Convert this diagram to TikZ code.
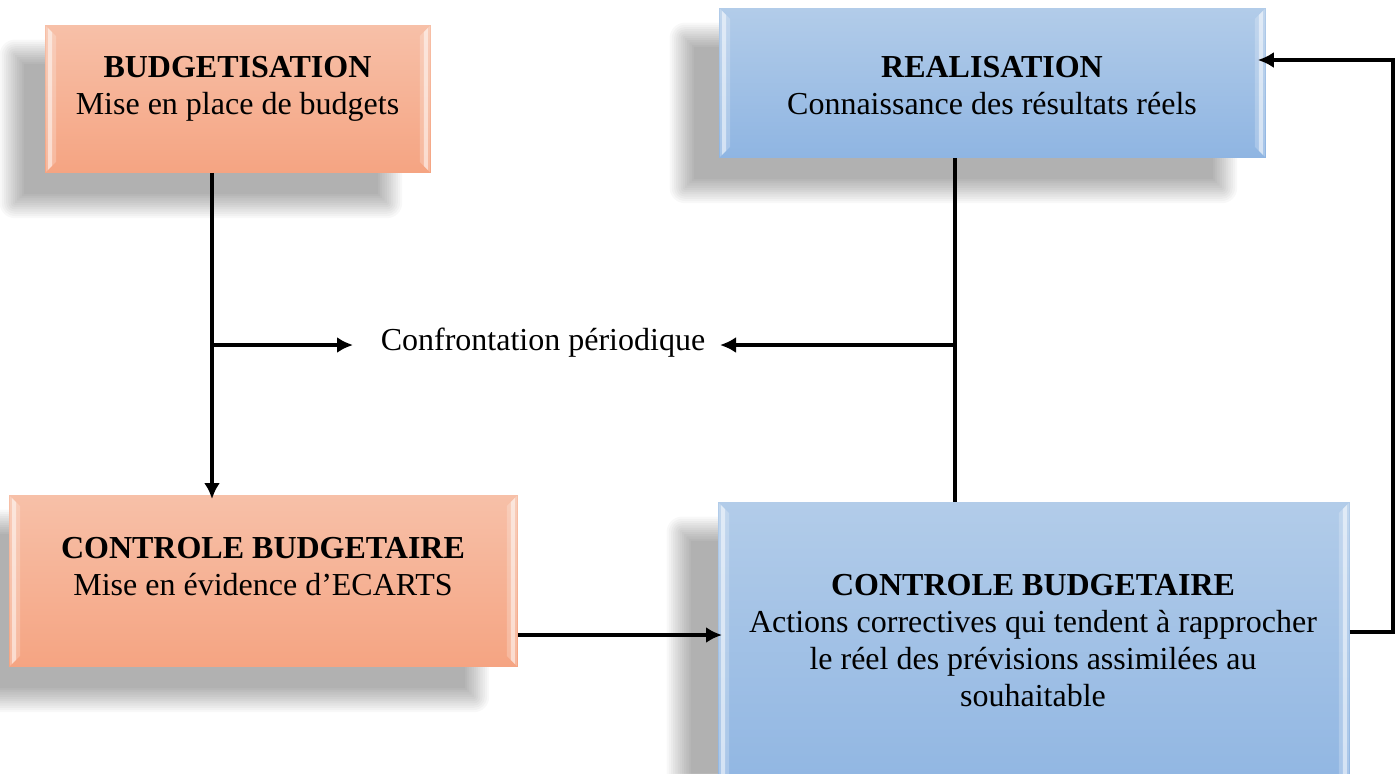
\documentclass[tikz,border=0pt]{standalone}
\usepackage{fontspec}
\setmainfont{Liberation Serif}
\usetikzlibrary{arrows.meta}

\definecolor{peachtop}{RGB}{247,192,168}
\definecolor{peachbot}{RGB}{245,164,130}
\definecolor{bluetop}{RGB}{178,204,233}
\definecolor{bluebot}{RGB}{143,181,226}

\tikzset{
  boxbase/.style={draw=none, inner sep=0pt, anchor=north west},
  peachbox/.style={boxbase, top color=peachtop, bottom color=peachbot},
  bluebox/.style={boxbase, top color=bluetop, bottom color=bluebot},
  boxtext/.style={align=center, anchor=north, inner sep=0pt, font=\fontsize{16}{18.5}\selectfont},
  link/.style={line width=2pt, -{Latex[length=8pt,width=8pt]}},
  plainlink/.style={line width=2pt},
  shadowlayer/.style={fill=black, opacity=0.028, rounded corners=#1},
}

% soft drop shadow: stacked translucent rectangles, offset left and down
\newcommand\softshadow[3]{% node, left shift, right shift
  \foreach \e in {-4.4,-3.3,...,7.7}{
    \pgfmathsetmacro\rr{max(\e,0.1)}
    \fill[shadowlayer=\rr pt]
      ([xshift=#2-\e pt, yshift=-15pt+\e pt]#1.north west) rectangle
      ([xshift=#3+\e pt, yshift=-15pt-\e pt]#1.south east);
  }%
}

% bevel highlight along the left and right edges
\newcommand\boxbevel[1]{%
  \fill[white, opacity=0.22] ([xshift=0.5pt,yshift=-0.5pt]#1.north west) -- ([xshift=5.5pt,yshift=-5.5pt]#1.north west)
     -- ([xshift=5.5pt,yshift=5.5pt]#1.south west) -- ([xshift=0.5pt,yshift=0.5pt]#1.south west) -- cycle;
  \fill[white, opacity=0.5] ([xshift=1.5pt,yshift=-1.5pt]#1.north west) -- ([xshift=3.5pt,yshift=-3.5pt]#1.north west)
     -- ([xshift=3.5pt,yshift=3.5pt]#1.south west) -- ([xshift=1.5pt,yshift=1.5pt]#1.south west) -- cycle;
  \fill[white, opacity=0.22] ([xshift=-0.5pt,yshift=-0.5pt]#1.north east) -- ([xshift=-5.5pt,yshift=-5.5pt]#1.north east)
     -- ([xshift=-5.5pt,yshift=5.5pt]#1.south east) -- ([xshift=-0.5pt,yshift=0.5pt]#1.south east) -- cycle;
  \fill[white, opacity=0.5] ([xshift=-1.5pt,yshift=-1.5pt]#1.north east) -- ([xshift=-3.5pt,yshift=-3.5pt]#1.north east)
     -- ([xshift=-3.5pt,yshift=3.5pt]#1.south east) -- ([xshift=-1.5pt,yshift=1.5pt]#1.south east) -- cycle;
}

\begin{document}
\begin{tikzpicture}[x=0.5pt, y=-0.5pt]
  \useasboundingbox (0,0) rectangle (1400,773);
  \fill[white] (0,0) rectangle (1400,773);
  \clip (0,0) rectangle (1400,773);

  % boxes
  \node[peachbox, minimum width=192.5pt, minimum height=73.5pt] (b1) at (45,25) {};
  \node[bluebox,  minimum width=273pt,   minimum height=74.5pt] (b2) at (719,8) {};
  \node[peachbox, minimum width=254pt,   minimum height=85.5pt] (b3) at (9,495) {};
  \node[bluebox,  minimum width=315.5pt, minimum height=149pt]  (b4) at (718,502) {};

  % shadows behind the boxes, then the boxes repainted on top with their bevels
  \begin{scope}[on background layer/.style={}]
    \softshadow{b1}{-15pt}{-22pt}
    \softshadow{b2}{-17pt}{-22pt}
    \softshadow{b3}{-18pt}{-22pt}
    \softshadow{b4}{-18pt}{-22pt}
  \end{scope}
  \foreach \b/\c in {b1/peach, b2/blue, b3/peach, b4/blue}{
    \fill[top color=\c top, bottom color=\c bot] (\b.north west) rectangle (\b.south east);
    \boxbevel{\b}
  }

  % box texts
  \node[boxtext] (t1) at (237.5,56) {\textbf{BUDGETISATION}\\Mise en place de budgets};
  \node[boxtext] (t2) at (992,56) {\textbf{REALISATION}\\Connaissance des résultats réels};
  \node[boxtext] (t3) at (263,537) {\textbf{CONTROLE BUDGETAIRE}\\Mise en évidence d’ECARTS};
  \node[boxtext] (t4) at (1033,574) {\textbf{CONTROLE BUDGETAIRE}\\Actions correctives qui tendent à rapprocher\\le réel des prévisions assimilées au\\souhaitable};

  % central label
  \node[boxtext, anchor=base] (conf) at (543,350) {Confrontation périodique};

  % junctions and bends
  \coordinate (j1) at (212,345);
  \coordinate (j2) at (955,345);
  \coordinate (confL) at (353,345);
  \coordinate (confR) at (720,345);
  \coordinate (m) at (617,635);
  \coordinate (k1) at (1393,632);
  \coordinate (k2) at (1393,60);

  % connectors
  \draw[link] (b1.south -| j1) -- ([yshift=-2pt]b3.north -| j1);
  \draw[link] (j1) -- (confL);
  \draw[plainlink] (b2.south -| j2) -- (b4.north -| j2);
  \draw[link] (j2) -- (confR);
  \draw[link] (b3.east |- m) -- ([xshift=2pt]b4.west |- m);
  \draw[link] (b4.east |- k1) -- (k1) -- (k2) -- ([xshift=-4pt]b2.east |- k2);
\end{tikzpicture}
\end{document}
